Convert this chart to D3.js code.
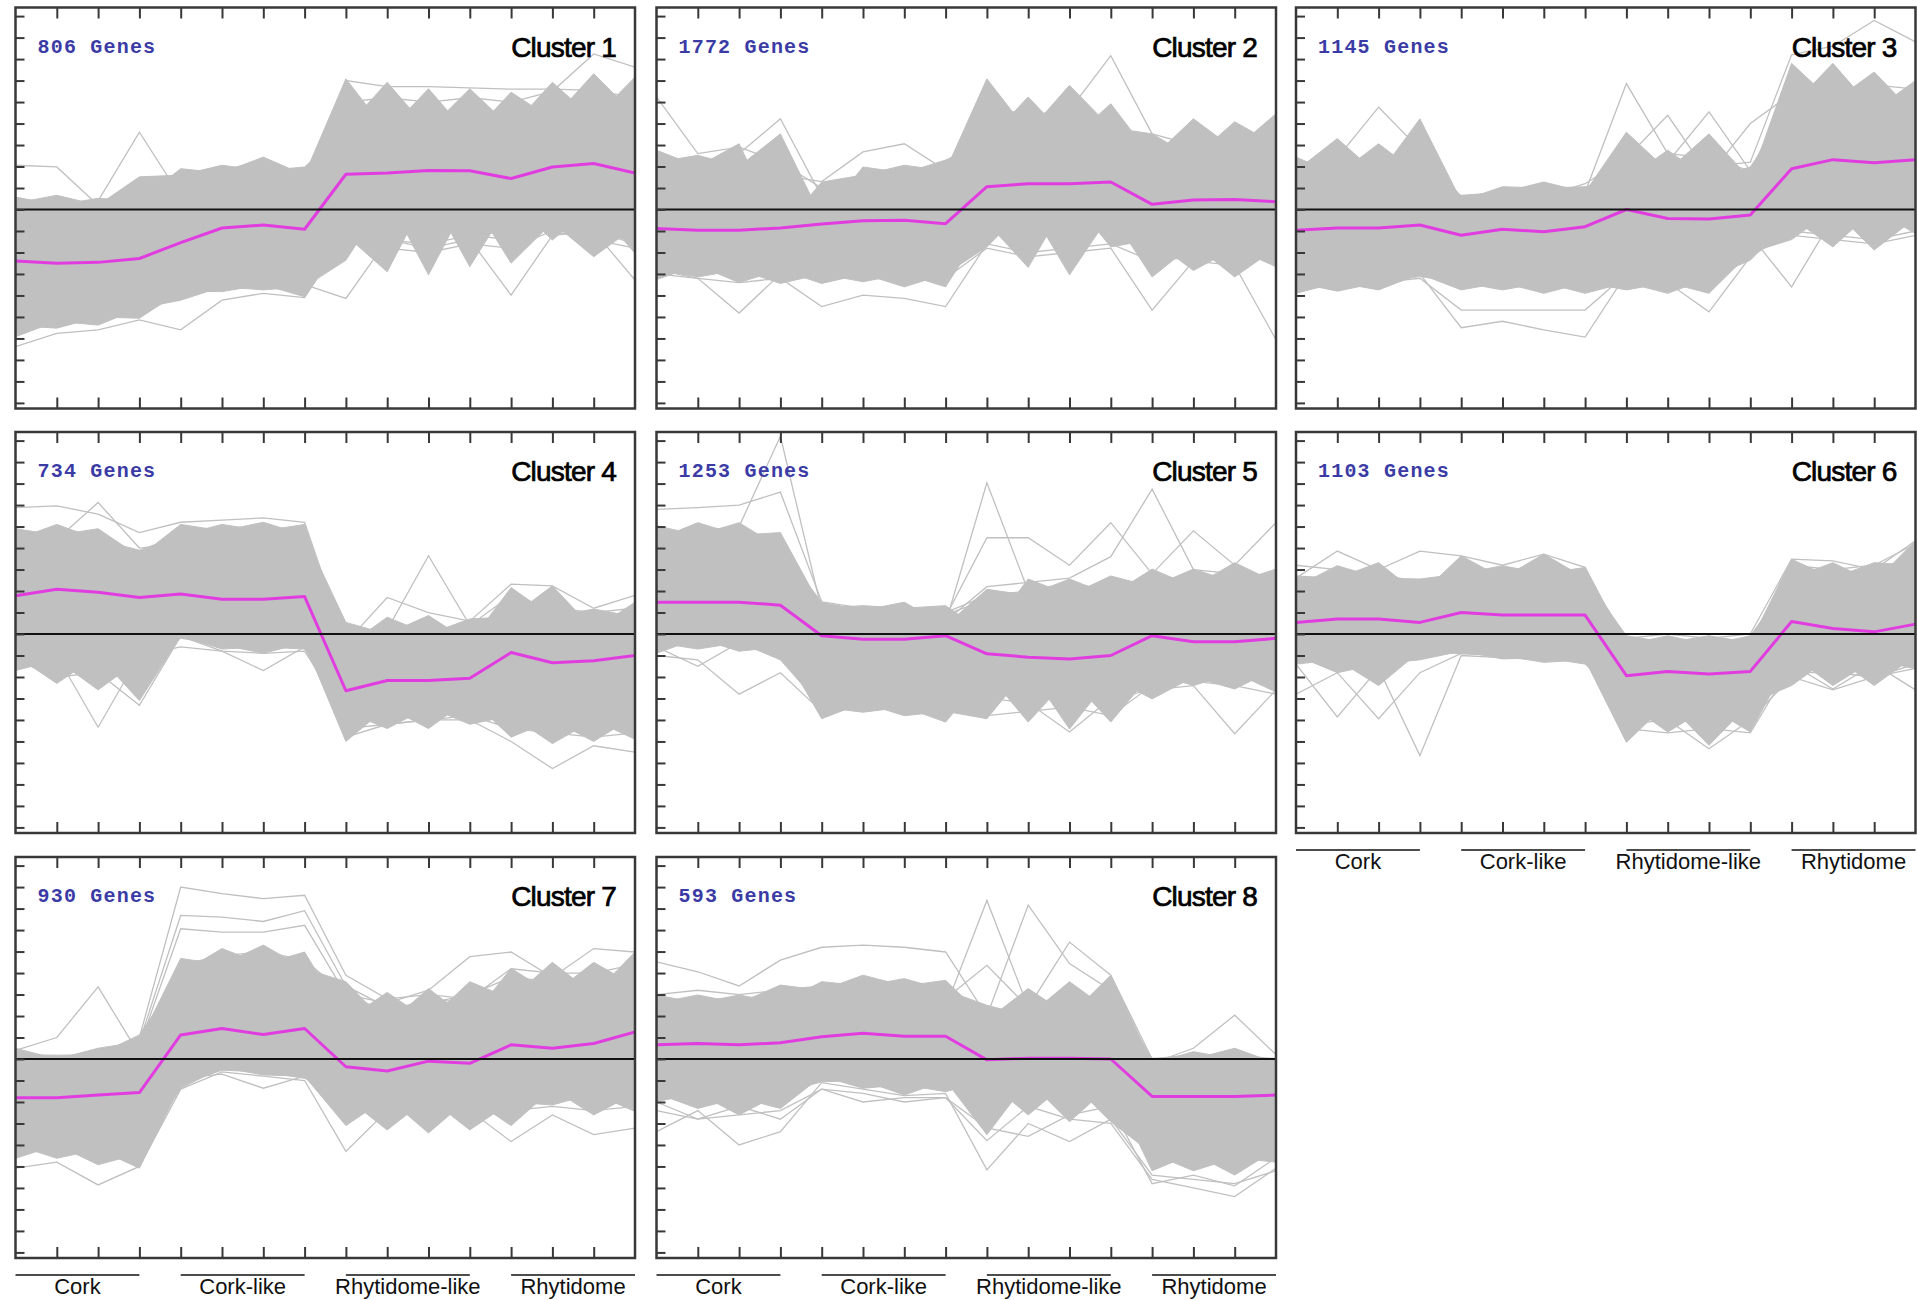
<!DOCTYPE html>
<html>
<head>
<meta charset="utf-8">
<script src="https://cdn.jsdelivr.net/npm/d3@7"></script>
<style>
  body { margin: 0; background: #fff; }
  svg { display: block; }
</style>
</head>
<body>
<svg id="chart" width="1917" height="1300"></svg>
<script>
// ---- samples and groups -------------------------------------------------
const sampleIdx = [0, 1, 2, 3, 4, 5, 6, 7, 8, 9, 10, 11, 12, 13, 14, 15];
const groupNames = ["Cork", "Cork-like", "Rhytidome-like", "Rhytidome"];
const groupFirst = [0, 4, 8, 12];
const groupLast = [3, 7, 11, 15];
const yTickValues = [-4.5, -4, -3.5, -3, -2.5, -2, -1.5, -1, -0.5, 0, 0.5, 1, 1.5, 2, 2.5, 3, 3.5, 4, 4.5];
const yDomain = [-4.63, 4.70];

const clusterNames = ["Cluster 1", "Cluster 2", "Cluster 3", "Cluster 4", "Cluster 5", "Cluster 6", "Cluster 7", "Cluster 8"];
const geneCounts = [806, 1772, 1145, 734, 1253, 1103, 930, 593];

// ---- Cluster 1 ----------------------------------------------------------
const meanC1 = [-1.20, -1.25, -1.23, -1.14, -0.77, -0.43, -0.36, -0.46, 0.82, 0.85, 0.91, 0.90, 0.72, 0.99, 1.07, 0.85];
const upperC1 = [0.29, 0.33, 0.26, 0.76, 0.95, 1.03, 1.22, 0.99, 3.04, 2.96, 2.81, 2.81, 2.73, 2.96, 3.16, 3.08];
const upperCoreC1 = [0.15, 0.10, 0.10, 0.20, 0.80, 0.85, 0.90, 0.80, 1.90, 1.80, 1.85, 1.70, 1.90, 2.10, 2.10, 2.20];
const lowerC1 = [-2.96, -2.76, -2.69, -2.53, -2.11, -1.91, -1.87, -2.03, -1.18, -1.45, -1.52, -1.33, -1.25, -0.71, -1.10, -1.02];
const lowerCoreC1 = [-2.70, -2.60, -2.50, -2.30, -1.90, -1.80, -1.75, -1.80, -0.60, 0.30, 0.40, 0.30, 0.20, -0.30, 0.10, -0.40];
const outliersC1 = [
  [0.25, 0.15, 0.20, 1.80, 0.30, -0.20, -0.30, -0.40, 1.60, 1.40, 1.50, 1.30, 1.40, 1.50, 1.60, 1.40],
  [1.03, 0.99, 0.10, 0.40, 0.20, 0.90, 1.15, 0.60, 2.30, 2.00, 2.10, 1.90, 2.00, 2.20, 2.40, 2.30],
  [-3.19, -2.88, -2.80, -2.57, -2.80, -2.11, -1.95, -2.05, -0.60, -0.90, -1.00, -0.80, -0.90, -0.50, -0.70, -0.90],
  [-2.20, -2.30, -2.20, -2.00, -1.70, -1.60, -1.70, -1.75, -2.07, -0.71, -0.80, -0.60, -0.70, -0.40, -0.60, -0.70],
  [-1.50, -1.60, -1.50, -1.40, -1.20, -1.10, -1.00, -1.20, -0.60, -0.70, -0.90, -0.70, -1.99, -0.60, -0.50, -0.80],
  [0.00, -0.20, -0.10, 0.10, 0.50, 0.60, 0.70, 0.60, 2.50, 2.60, 2.50, 2.60, 2.50, 2.75, 3.62, 3.31],
  [-0.20, -0.30, -0.40, -0.20, 0.40, 0.50, 0.70, 0.60, 3.00, 2.86, 2.86, 2.83, 2.80, 2.80, 2.77, 2.60],
  [-1.00, -1.20, -1.10, -0.90, -0.70, -0.50, -0.40, -0.50, -0.30, -0.50, -0.40, -0.50, -0.60, -0.30, -0.50, -1.64]
];

// ---- Cluster 2 ----------------------------------------------------------
const meanC2 = [-0.44, -0.48, -0.48, -0.43, -0.34, -0.26, -0.25, -0.33, 0.53, 0.60, 0.60, 0.64, 0.12, 0.22, 0.23, 0.18];
const upperC2 = [1.38, 1.26, 1.53, 1.76, 0.64, 0.99, 1.03, 1.15, 3.04, 2.62, 2.89, 2.46, 1.76, 2.11, 2.04, 2.23];
const upperCoreC2 = [1.10, 1.00, 1.00, -0.50, -0.20, 0.80, 0.85, 0.90, 1.60, 1.80, 1.60, 1.90, 1.20, 1.20, 1.40, 1.50];
const lowerC2 = [-1.63, -1.57, -1.70, -1.72, -1.72, -1.68, -1.80, -1.80, -0.87, -1.35, -1.52, -0.87, -1.57, -1.42, -1.57, -1.33];
const lowerCoreC2 = [-1.40, -1.30, -1.40, -1.40, -1.50, -1.50, -1.50, -1.50, -0.30, 0.10, 0.30, -0.10, -0.70, -0.80, -0.90, -0.90];
const outliersC2 = [
  [2.62, 1.30, 1.45, 1.10, 0.50, 0.60, 0.70, 0.50, 1.50, 1.20, 1.30, 1.10, 0.70, 0.60, 0.70, 0.60],
  [1.00, 0.90, 1.30, 2.11, 0.30, 0.60, 0.70, 0.80, 2.00, 1.80, 1.90, 1.70, 1.00, 1.10, 1.20, 1.10],
  [0.90, 0.80, 0.90, 0.80, 0.65, 1.34, 1.53, 0.91, 2.40, 2.20, 2.30, 2.10, 1.30, 1.40, 1.50, 1.40],
  [0.50, 0.40, 0.50, 0.40, 0.20, 0.40, 0.50, 0.60, 2.60, 2.00, 2.31, 3.58, 1.76, 1.50, 1.60, 1.70],
  [-1.50, -1.60, -1.70, -1.60, -2.26, -1.99, -2.07, -2.26, -0.80, -1.00, -0.90, -0.80, -1.20, -1.10, -1.20, -1.10],
  [-1.40, -1.60, -2.41, -1.50, -1.30, -1.40, -1.50, -1.60, -0.90, -1.10, -1.00, -0.90, -2.34, -1.20, -1.30, -3.03]
];

// ---- Cluster 3 ----------------------------------------------------------
const meanC3 = [-0.48, -0.43, -0.43, -0.36, -0.60, -0.46, -0.52, -0.40, 0.00, -0.21, -0.22, -0.13, 0.95, 1.16, 1.09, 1.16];
const upperC3 = [1.22, 1.65, 1.53, 2.11, 0.33, 0.53, 0.64, 0.53, 1.80, 1.38, 1.76, 0.99, 3.40, 3.40, 3.20, 3.00];
const upperCoreC3 = [0.90, 0.80, 0.80, 0.80, 0.20, 0.40, 0.50, 0.40, 0.70, 0.90, 0.70, 0.70, 2.40, 2.50, 2.30, 2.20];
const lowerC3 = [-1.95, -1.90, -1.87, -1.56, -1.87, -1.87, -1.95, -1.95, -1.87, -1.95, -1.95, -1.18, -0.70, -0.87, -0.94, -0.56];
const lowerCoreC3 = [-1.70, -1.70, -1.70, -1.50, -1.70, -1.70, -1.70, -1.70, -1.70, -1.70, -1.60, -1.00, -0.20, 0.00, 0.00, -0.20];
const outliersC3 = [
  [-1.60, -1.70, -1.70, -1.50, -2.75, -2.60, -2.80, -2.97, -1.50, -1.60, -1.50, -1.00, -0.60, -0.70, -0.80, -0.60],
  [-1.80, -1.80, -1.70, -1.60, -2.34, -2.34, -2.34, -2.34, -1.50, -1.70, -2.38, -1.10, -0.50, -0.60, -0.70, -0.50],
  [0.90, 1.20, 2.38, 1.40, 0.30, 0.40, 0.50, 0.40, 0.80, 0.90, 0.70, 0.60, 2.50, 2.60, 2.40, 2.30],
  [0.50, 0.60, 0.70, 0.60, 0.20, 0.30, 0.20, 0.40, 2.93, 1.30, 1.20, 0.90, 2.80, 2.90, 2.70, 2.60],
  [0.30, 0.40, 0.30, 0.50, 0.10, 0.20, 0.30, 0.60, 1.20, 2.19, 0.80, 2.00, 2.70, 2.80, 2.90, 2.80],
  [0.20, 0.30, 0.20, 0.30, 0.00, 0.10, 0.20, 0.10, 0.80, 1.10, 2.27, 0.90, 2.60, 2.70, 2.60, 2.50],
  [-0.80, -0.90, -0.80, -0.70, -1.00, -1.10, -1.00, -0.90, -1.00, -1.10, -1.00, -0.60, -1.80, -0.20, -0.30, -0.40],
  [0.60, 0.70, 0.60, 0.80, 0.30, 0.40, 0.40, 0.50, 1.00, 0.90, 1.00, 1.10, 3.60, 3.80, 4.40, 3.90]
];

// ---- Cluster 4 ----------------------------------------------------------
const meanC4 = [0.89, 1.04, 0.97, 0.85, 0.93, 0.81, 0.81, 0.87, -1.32, -1.08, -1.08, -1.03, -0.43, -0.67, -0.62, -0.50];
const upperC4 = [2.45, 2.55, 2.45, 1.95, 2.55, 2.55, 2.60, 2.55, 0.27, 0.39, 0.43, 0.35, 1.08, 1.12, 0.58, 0.74];
const upperCoreC4 = [2.20, 2.30, 2.20, 1.80, 2.30, 2.40, 2.40, 2.30, -0.30, 0.00, 0.00, -0.20, 0.40, 0.40, 0.10, 0.40];
const lowerC4 = [-0.85, -1.15, -1.30, -1.55, -0.10, -0.35, -0.45, -0.35, -2.50, -2.20, -2.20, -2.10, -2.40, -2.55, -2.50, -2.45];
const lowerCoreC4 = [-0.50, -0.60, -0.50, -0.60, -0.05, -0.25, -0.30, -0.20, -1.80, -1.70, -1.70, -1.50, -1.90, -2.00, -2.00, -1.90];
const outliersC4 = [
  [2.94, 2.98, 2.79, 2.36, 2.60, 2.65, 2.70, 2.60, -0.20, -0.30, -0.20, -0.30, -0.10, -0.20, -0.30, -0.20],
  [2.30, 2.20, 3.06, 2.00, 2.10, 2.20, 2.30, 2.20, 0.00, -0.10, 0.10, 0.00, 0.30, 0.10, 0.20, 0.30],
  [-0.40, -0.50, -2.17, -0.50, -0.30, -0.40, -0.45, -0.40, -1.90, -1.80, -1.70, -1.60, -1.90, -2.00, -2.10, -2.00],
  [-0.60, -1.00, -0.90, -1.66, -0.05, -0.40, -0.85, -0.30, -2.20, -2.10, -2.00, -1.90, -2.20, -2.30, -2.40, -2.30],
  [1.00, 1.10, 1.00, 0.90, 1.00, 0.90, 0.90, 0.90, -0.60, 0.10, 1.82, 0.20, 0.90, 0.60, 0.50, 0.60],
  [1.50, 1.60, 1.50, 1.40, 1.50, 1.40, 1.40, 1.40, -0.20, 0.85, 0.50, 0.30, 1.16, 1.12, 0.60, 0.90],
  [0.50, 0.60, 0.50, 0.40, 0.50, 0.40, 0.40, 0.40, -2.40, -2.10, -2.00, -2.00, -2.50, -3.13, -2.60, -2.75]
];

// ---- Cluster 5 ----------------------------------------------------------
const meanC5 = [0.74, 0.74, 0.74, 0.67, -0.04, -0.12, -0.12, -0.04, -0.46, -0.54, -0.58, -0.50, -0.04, -0.18, -0.18, -0.10];
const upperC5 = [2.52, 2.59, 2.59, 2.36, 0.74, 0.66, 0.74, 0.66, 1.04, 1.28, 1.28, 1.35, 1.51, 1.51, 1.66, 1.51];
const upperCoreC5 = [2.20, 2.30, 2.30, 2.00, 0.60, 0.55, 0.60, 0.20, 0.00, 0.90, 0.90, 0.90, 1.10, 1.10, 1.20, 1.20];
const lowerC5 = [-0.45, -0.35, -0.40, -0.60, -1.97, -1.82, -1.90, -2.05, -1.97, -2.05, -2.21, -2.05, -1.51, -1.20, -1.28, -1.35];
const lowerCoreC5 = [-0.20, -0.10, -0.20, -0.30, -1.70, -1.60, -1.70, -1.80, -0.90, -0.80, -1.00, -1.00, -0.90, -1.00, -0.90, -0.80];
const outliersC5 = [
  [2.90, 2.94, 3.00, 3.30, 0.75, 0.60, 0.60, 0.50, 0.90, 1.00, 1.00, 1.10, 1.20, 1.10, 1.20, 1.10],
  [2.20, 2.40, 2.50, 4.60, 0.55, 0.50, 0.55, 0.45, 0.80, 0.90, 0.80, 0.90, 1.00, 0.90, 1.00, 1.00],
  [1.20, 1.30, 1.20, 1.10, 0.40, 0.30, 0.35, 0.25, 3.52, 1.00, 1.20, 1.00, 1.30, 1.20, 1.40, 1.20],
  [1.00, 1.10, 1.00, 1.20, 0.30, 0.30, 0.40, 0.30, 1.10, 1.20, 1.30, 1.80, 3.37, 1.50, 1.40, 1.30],
  [1.50, 1.60, 1.50, 1.40, 0.50, 0.40, 0.50, 0.40, 2.24, 2.24, 1.60, 2.59, 1.40, 2.40, 1.60, 2.59],
  [-0.50, -0.60, -1.40, -0.90, -1.80, -1.70, -1.80, -1.90, -1.50, -1.60, -2.28, -1.50, -1.30, -1.20, -2.32, -1.30],
  [-0.30, -0.75, -0.20, -0.40, -1.60, -1.50, -1.60, -1.70, -1.90, -1.80, -1.70, -1.90, -1.20, -1.10, -1.20, -1.40]
];

// ---- Cluster 6 ----------------------------------------------------------
const meanC6 = [0.27, 0.35, 0.35, 0.27, 0.50, 0.44, 0.44, 0.44, -0.97, -0.87, -0.93, -0.87, 0.29, 0.13, 0.05, 0.23];
const upperC6 = [1.35, 1.59, 1.66, 1.28, 1.82, 1.59, 1.86, 1.55, -0.04, -0.04, -0.04, -0.04, 1.74, 1.66, 1.66, 2.17];
const upperCoreC6 = [1.10, 1.30, 1.30, 0.90, 1.40, 1.30, 1.40, 1.30, -0.25, -0.20, -0.25, -0.20, 1.30, 1.30, 1.20, 1.60];
const lowerC6 = [-0.70, -0.90, -1.20, -0.60, -0.46, -0.58, -0.66, -0.70, -2.52, -2.28, -2.59, -2.28, -1.20, -1.20, -1.20, -0.81];
const lowerCoreC6 = [-0.50, -0.60, -0.70, -0.40, -0.40, -0.50, -0.55, -0.60, -1.60, -1.60, -1.70, -1.60, -0.50, -0.50, -0.60, -0.50];
const outliersC6 = [
  [-0.70, -1.93, -0.80, -2.83, -0.50, -0.55, -0.60, -0.60, -2.00, -1.90, -2.00, -1.90, -0.90, -0.90, -1.00, -0.70],
  [-1.40, -0.90, -1.97, -0.90, -0.45, -0.50, -0.55, -0.60, -2.10, -2.00, -2.67, -2.00, -1.00, -1.30, -1.00, -0.80],
  [1.30, 1.93, 1.50, 1.93, 1.82, 1.60, 1.86, 1.55, -0.30, -0.30, -0.30, -0.30, 1.60, 1.50, 1.60, 2.10],
  [1.60, 1.50, 1.40, 1.20, 1.20, 1.40, 1.60, 1.40, -0.10, 0.00, -0.10, 0.00, 1.74, 1.70, 1.50, 2.17],
  [-0.50, -0.60, -0.70, -0.50, -0.40, -0.50, -0.50, -0.60, -2.20, -2.30, -2.20, -2.30, -0.70, -1.28, -0.70, -1.30]
];

// ---- Cluster 7 ----------------------------------------------------------
const meanC7 = [-0.90, -0.90, -0.84, -0.78, 0.56, 0.71, 0.57, 0.71, -0.18, -0.28, -0.05, -0.10, 0.33, 0.25, 0.36, 0.63];
const upperC7 = [0.25, 0.09, 0.25, 0.56, 2.34, 2.57, 2.65, 2.49, 1.80, 1.55, 1.64, 1.80, 2.11, 2.25, 2.25, 2.49];
const upperCoreC7 = [0.10, 0.00, 0.10, 0.40, 2.00, 2.20, 2.20, 2.10, 0.90, 0.80, 0.90, 0.90, 1.40, 1.50, 1.50, 1.70];
const lowerC7 = [-2.31, -2.31, -2.46, -2.54, -0.68, -0.26, -0.37, -0.45, -1.55, -1.65, -1.72, -1.65, -1.55, -1.07, -1.30, -1.22];
const lowerCoreC7 = [-2.00, -2.00, -2.10, -2.20, -0.60, -0.20, -0.30, -0.40, -0.90, -0.90, -0.90, -0.90, -1.00, -0.70, -0.80, -0.80];
const outliersC7 = [
  [0.00, -0.30, -0.20, 0.50, 4.00, 3.85, 3.73, 3.81, 1.95, 1.40, 1.50, 1.40, 2.10, 2.00, 2.00, 2.20],
  [-0.10, -0.20, -0.30, 0.40, 3.34, 3.30, 3.20, 3.45, 1.70, 1.20, 1.30, 1.50, 1.90, 1.80, 1.90, 2.00],
  [-0.20, -0.30, -0.20, 0.30, 3.03, 2.95, 2.95, 3.11, 1.50, 1.10, 1.40, 1.30, 1.70, 1.60, 1.80, 1.90],
  [0.20, 0.50, 1.68, 0.10, 2.00, 2.10, 2.00, 2.20, 1.00, 0.90, 1.00, 1.10, 1.50, 1.60, 1.50, 1.70],
  [-2.54, -2.40, -2.93, -2.50, -0.70, -0.30, -0.40, -0.50, -2.15, -1.20, -1.00, -1.20, -1.92, -1.30, -1.76, -1.61],
  [0.10, 0.00, 0.20, 0.30, 2.20, 2.40, 2.50, 2.30, 1.50, 1.30, 1.60, 2.38, 2.49, 1.90, 2.57, 2.49],
  [-2.00, -2.10, -2.00, -2.20, -0.45, -0.35, -0.68, -0.40, -1.00, -1.10, -1.00, -1.00, -1.20, -1.10, -1.20, -1.10]
];

// ---- Cluster 8 ----------------------------------------------------------
const meanC8 = [0.33, 0.36, 0.33, 0.38, 0.52, 0.60, 0.53, 0.53, -0.02, 0.02, 0.02, 0.00, -0.87, -0.87, -0.87, -0.84];
const upperC8 = [1.49, 1.49, 1.49, 1.72, 1.80, 1.95, 1.87, 1.83, 1.25, 1.64, 1.80, 1.95, 0.02, 0.17, 0.25, 0.02];
const upperCoreC8 = [1.30, 1.30, 1.30, 1.30, 1.60, 1.70, 1.70, 1.60, 0.90, 1.00, 1.00, 1.10, -0.10, 0.00, 0.00, -0.10];
const lowerC8 = [-0.99, -1.15, -1.30, -1.15, -0.53, -0.68, -0.84, -0.76, -1.76, -1.30, -1.46, -1.46, -2.60, -2.60, -2.70, -2.40];
const lowerCoreC8 = [-0.80, -0.80, -0.90, -0.80, -0.40, -0.50, -0.60, -0.50, -0.50, -0.50, -0.50, -0.60, -2.20, -2.20, -2.30, -2.10];
const outliersC8 = [
  [1.50, 1.60, 1.50, 1.60, 1.70, 1.80, 1.70, 1.20, 3.69, 1.20, 1.40, 1.30, -0.10, 0.00, 0.10, 0.00],
  [1.30, 1.40, 1.40, 1.50, 1.60, 1.70, 1.60, 1.30, 1.00, 3.58, 2.22, 1.60, 0.00, 0.10, 0.00, -0.10],
  [1.00, 1.20, 1.10, 1.30, 1.50, 1.60, 1.60, 1.40, 2.18, 1.20, 2.72, 1.95, 0.00, 0.00, -0.10, 0.00],
  [2.26, 2.03, 1.70, 2.30, 2.60, 2.65, 2.60, 2.49, 1.00, 1.20, 1.30, 1.40, -0.10, 0.25, 1.02, 0.10],
  [-1.69, -1.20, -2.00, -1.69, -0.55, -0.70, -0.85, -0.80, -2.58, -1.50, -1.92, -1.40, -2.70, -2.80, -2.90, -2.60],
  [-1.20, -1.40, -1.30, -1.20, -0.70, -1.00, -0.90, -0.90, -1.90, -1.10, -1.40, -1.50, -2.80, -3.00, -3.20, -2.54],
  [-1.00, -1.40, -1.10, -1.40, -0.70, -0.80, -1.00, -0.90, -1.60, -1.80, -1.30, -1.10, -2.90, -2.70, -2.95, -2.30]
];

// ---- assemble -----------------------------------------------------------
const clusters = [
  { mean: meanC1, upper: upperC1, upperCore: upperCoreC1, lower: lowerC1, lowerCore: lowerCoreC1, outliers: outliersC1 },
  { mean: meanC2, upper: upperC2, upperCore: upperCoreC2, lower: lowerC2, lowerCore: lowerCoreC2, outliers: outliersC2 },
  { mean: meanC3, upper: upperC3, upperCore: upperCoreC3, lower: lowerC3, lowerCore: lowerCoreC3, outliers: outliersC3 },
  { mean: meanC4, upper: upperC4, upperCore: upperCoreC4, lower: lowerC4, lowerCore: lowerCoreC4, outliers: outliersC4 },
  { mean: meanC5, upper: upperC5, upperCore: upperCoreC5, lower: lowerC5, lowerCore: lowerCoreC5, outliers: outliersC5 },
  { mean: meanC6, upper: upperC6, upperCore: upperCoreC6, lower: lowerC6, lowerCore: lowerCoreC6, outliers: outliersC6 },
  { mean: meanC7, upper: upperC7, upperCore: upperCoreC7, lower: lowerC7, lowerCore: lowerCoreC7, outliers: outliersC7 },
  { mean: meanC8, upper: upperC8, upperCore: upperCoreC8, lower: lowerC8, lowerCore: lowerCoreC8, outliers: outliersC8 }
].map((c, k) => Object.assign(c, { name: clusterNames[k], genes: geneCounts[k] }));

// ---- layout -------------------------------------------------------------
const frameW = 619.5, frameH = 401;
const colLeft = [15.5, 656.5, 1296];
const rowTop = [7.5, 432, 857];
const labelledPanels = [5, 6, 7]; // panels that carry the tissue labels beneath

const GRAY = "#c0c0c0";
const MAGENTA = "#e03ce0";
const FRAME = "#383838";

const svg = d3.select("#chart");

clusters.forEach((c, k) => {
  const left = colLeft[k % 3], top = rowTop[Math.floor(k / 3)];
  const x = d3.scaleLinear().domain([0, 15]).range([left, left + frameW]);
  const y = d3.scaleLinear().domain(yDomain).range([top + frameH, top]);

  const g = svg.append("g").attr("class", "panel");
  const clipId = "clip" + k;
  g.append("clipPath").attr("id", clipId)
    .append("rect").attr("x", left).attr("y", top).attr("width", frameW).attr("height", frameH);
  const plot = g.append("g").attr("clip-path", `url(#${clipId})`);

  // gene bundle: two interleaved families of profiles, peaking on alternate samples
  const area = d3.area()
    .x(d => x(d[0]))
    .y0(d => y(d[1]))
    .y1(d => y(d[2]));
  [0, 1].forEach(parity => {
    const pts = sampleIdx.map(i => {
      const peak = i % 2 === parity;
      return [i, peak ? c.lower[i] : c.lowerCore[i], peak ? c.upper[i] : c.upperCore[i]];
    });
    plot.append("path").attr("d", area(pts)).attr("fill", GRAY).attr("stroke", GRAY).attr("stroke-width", 1);
  });

  // individual profiles standing out of the bundle
  const line = d3.line().x((v, i) => x(sampleIdx[i])).y(v => y(v));
  plot.selectAll("path.gene").data(c.outliers).join("path")
    .attr("class", "gene")
    .attr("d", line)
    .attr("fill", "none")
    .attr("stroke", GRAY)
    .attr("stroke-width", 1.3);

  // cluster mean profile
  plot.append("path").attr("d", line(c.mean))
    .attr("fill", "none").attr("stroke", MAGENTA).attr("stroke-width", 3)
    .attr("stroke-linejoin", "round");

  // zero reference
  plot.append("line")
    .attr("x1", left).attr("x2", left + frameW)
    .attr("y1", y(0)).attr("y2", y(0))
    .attr("stroke", "#111").attr("stroke-width", 2);

  // inward ticks on top, bottom and left
  const xTickVals = sampleIdx.slice(1, 15);
  const styleAxis = sel => {
    sel.select(".domain").remove();
    sel.selectAll(".tick line").attr("stroke", FRAME).attr("stroke-width", 2);
    sel.selectAll(".tick text").remove();
  };
  g.append("g").attr("transform", `translate(0,${top})`)
    .call(d3.axisBottom(x).tickValues(xTickVals).tickSize(11).tickFormat("")).call(styleAxis);
  g.append("g").attr("transform", `translate(0,${top + frameH})`)
    .call(d3.axisTop(x).tickValues(xTickVals).tickSize(11).tickFormat("")).call(styleAxis);
  g.append("g").attr("transform", `translate(${left},0)`)
    .call(d3.axisRight(y).tickValues(yTickValues).tickSize(9).tickFormat("")).call(styleAxis);

  // frame
  g.append("rect")
    .attr("x", left).attr("y", top).attr("width", frameW).attr("height", frameH)
    .attr("fill", "none").attr("stroke", FRAME).attr("stroke-width", 2.5);

  // captions
  g.append("text")
    .attr("x", left + 22).attr("y", top + 45)
    .attr("font-family", "'Liberation Mono', 'DejaVu Sans Mono', monospace")
    .attr("font-weight", "bold").attr("font-size", 20)
    .attr("letter-spacing", "1.2px")
    .attr("fill", "#3b3ba6")
    .text(`${c.genes} Genes`);
  g.append("text")
    .attr("x", left + frameW - 19).attr("y", top + 49)
    .attr("text-anchor", "end")
    .attr("font-family", "'Liberation Sans', Arial, sans-serif")
    .attr("font-size", 28).attr("letter-spacing", "-0.8px")
    .attr("fill", "#000").attr("stroke", "#000").attr("stroke-width", 0.7)
    .text(c.name);

  // tissue group labels under the bottom panels
  if (labelledPanels.includes(k)) {
    const base = top + frameH;
    groupNames.forEach((name, gi) => {
      const x0 = x(groupFirst[gi]), x1 = x(groupLast[gi]);
      g.append("line")
        .attr("x1", x0).attr("x2", x1).attr("y1", base + 17).attr("y2", base + 17)
        .attr("stroke", "#111").attr("stroke-width", 1.5);
      g.append("text")
        .attr("x", (x0 + x1) / 2).attr("y", base + 36)
        .attr("text-anchor", "middle")
        .attr("font-family", "'Liberation Sans', Arial, sans-serif")
        .attr("font-size", 22).attr("fill", "#111")
        .text(name);
    });
  }
});
</script>
</body>
</html>
